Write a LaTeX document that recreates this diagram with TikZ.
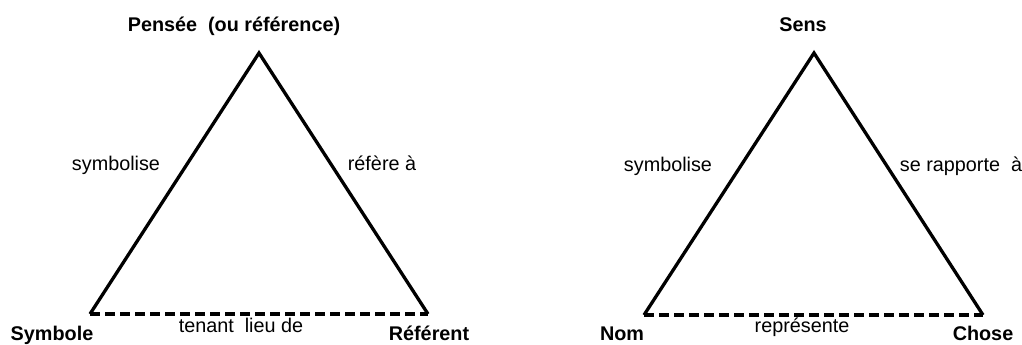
\documentclass[tikz,border=0pt]{standalone}
\usepackage{fontspec}
\setmainfont{Liberation Sans}
\begin{document}
\begin{tikzpicture}[x=1pt, y=-1pt,
    legs/.style={line width=3.3pt, line join=miter},
    dashbase/.style={line width=3.3pt, dash pattern=on 10pt off 5pt},
    sommet/.style={anchor=base, inner sep=0pt, font=\fontsize{19.8}{22}\selectfont\bfseries},
    relation/.style={anchor=base, inner sep=0pt, font=\fontsize{19.8}{22}\selectfont}]
  \useasboundingbox (0,0) rectangle (1022,345);

  % triangle de gauche
  \coordinate (pensee) at (259,53);
  \coordinate (symbole) at (90,314);
  \coordinate (referent) at (428,314);
  \draw[legs] (symbole) -- (pensee) -- (referent);
  \draw[dashbase] (symbole) -- (referent);

  \node[sommet] (lpensee) at (234,32) {Pensée\ \ (ou référence)};
  \node[sommet] (lsymbole) at (52,340) {Symbole};
  \node[sommet] (lreferent) at (429,340) {Référent};
  \node[relation] (lsymbolise) at (116,170) {symbolise};
  \node[relation] (lrefere) at (382,170) {réfère à};
  \node[relation] (ltenant) at (241,332) {tenant\ \ lieu de};

  % triangle de droite
  \coordinate (sens) at (814,53);
  \coordinate (nom) at (644,315);
  \coordinate (chose) at (983,315);
  \draw[legs] (nom) -- (sens) -- (chose);
  \draw[dashbase] (nom) -- (chose);

  \node[sommet] (lsens) at (803,32) {Sens};
  \node[sommet] (lnom) at (622,340) {Nom};
  \node[sommet] (lchose) at (983,340) {Chose};
  \node[relation] (lsymbolise2) at (668,171) {symbolise};
  \node[relation] (lrapporte) at (961,171) {se rapporte\ \ à};
  \node[relation] (lrepresente) at (802,332) {représente};
\end{tikzpicture}
\end{document}
